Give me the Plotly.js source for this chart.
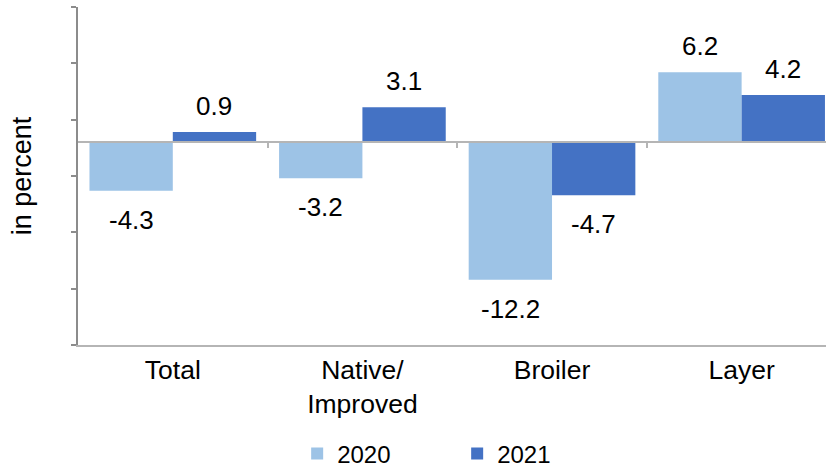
<!DOCTYPE html>
<html><head><meta charset="utf-8">
<script src="https://cdn.plot.ly/plotly-3.0.1.min.js"></script>
<style>html,body{margin:0;padding:0;background:#fff;overflow:hidden}#chart{width:826px;height:470px}</style>
</head><body><div id="chart"></div>
<script>
const categories = ['Total', 'Native/<br>Improved', 'Broiler', 'Layer'];
const values2020 = [-4.3, -3.2, -12.2, 6.2];
const values2021 = [0.9, 3.1, -4.7, 4.2];
const seriesNames = ['2020', '2021'];
const seriesColors = ['#9DC3E6', '#4472C4'];
const yTickVals = [-18, -13, -8, -3, 2, 7, 12];
const categoryBoundaries = [0.5, 1.5, 2.5];

const FONT = 'Liberation Sans, Arial, sans-serif';
const BARGAP = 0.121;
const half = (1 - BARGAP) / 4;
const allSeries = [values2020, values2021];

const traces = allSeries.map((vals, k) => ({
  type: 'bar', name: seriesNames[k], x: categories, y: vals,
  marker: {color: seriesColors[k], line: {width: 0}},
  hoverinfo: 'skip'
}));
traces.push({type: 'scatter', x: [], y: [], xaxis: 'x2', yaxis: 'y', showlegend: false, hoverinfo: 'skip'});

const annotations = [];
allSeries.forEach((vals, k) => {
  vals.forEach((v, i) => {
    annotations.push({
      x: i + (k === 0 ? -half : half), y: v, xref: 'x', yref: 'y',
      text: v.toFixed(1), showarrow: false,
      xanchor: 'center', yanchor: 'middle',
      yshift: v >= 0 ? 26 : -29,
      font: {family: FONT, size: 26, color: '#000'}
    });
  });
});

const layout = {
  width: 826, height: 470,
  margin: {l: 78, r: 0, t: 7, b: 125, autoexpand: false},
  paper_bgcolor: '#fff', plot_bgcolor: '#fff',
  font: {family: FONT, size: 26, color: '#000'},
  barmode: 'group', bargap: BARGAP, bargroupgap: 0,
  showlegend: true,
  legend: {orientation: 'h', x: 0.293, xanchor: 'left', y: -0.322, yanchor: 'middle',
           font: {family: FONT, size: 24, color: '#000'}, entrywidth: 115, entrywidthmode: 'pixels',
           traceorder: 'normal', tracegroupgap: 0},
  xaxis: {type: 'category', range: [-0.5, 3.445], showline: true, linecolor: '#b5b5b5', linewidth: 2,
          ticks: '', showgrid: false, zeroline: false, tickfont: {family: FONT, size: 26.5, color: '#000'},
          fixedrange: true},
  xaxis2: {overlaying: 'x', anchor: 'free', position: 0.6, side: 'bottom', type: 'linear',
           range: [-0.5, 3.445], showline: true, linecolor: '#b5b5b5', linewidth: 2,
           ticks: 'outside', ticklen: 5, tickwidth: 2, tickcolor: '#b5b5b5',
           tickmode: 'array', tickvals: categoryBoundaries, showticklabels: false,
           showgrid: false, zeroline: false, fixedrange: true},
  yaxis: {range: [-18, 12], tickmode: 'array', tickvals: yTickVals, ticks: 'outside', ticklen: 5,
          tickwidth: 2, tickcolor: '#8c8c8c', showline: true, linecolor: '#8c8c8c', linewidth: 2,
          showticklabels: false, showgrid: false, zeroline: false, fixedrange: true,
          title: {text: 'in percent', font: {family: FONT, size: 27, color: '#000'}, standoff: 32}},
  annotations: annotations
};

Plotly.newPlot('chart', traces, layout, {displayModeBar: false, staticPlot: true});
</script></body></html>
